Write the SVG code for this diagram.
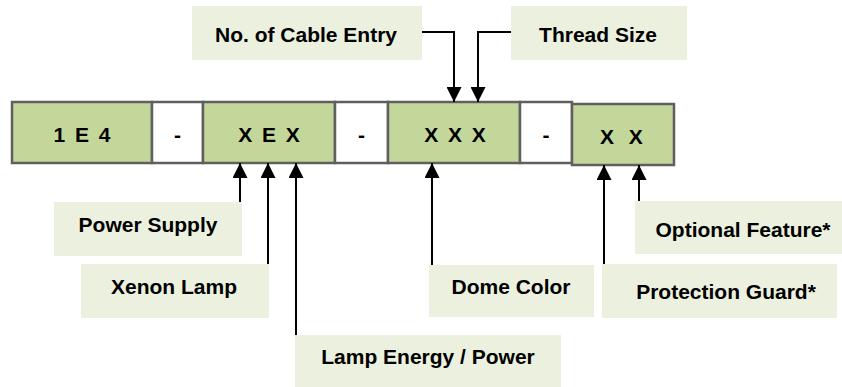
<svg xmlns="http://www.w3.org/2000/svg" width="842" height="387" viewBox="0 0 842 387">
<defs>
<style>
.cell{fill:#c4d79b;stroke:#5f5f5f;stroke-width:2.5}
.dash{fill:#ffffff;stroke:#5f5f5f;stroke-width:2.5}
.lbl{fill:#ebf1de}
text{font-family:"Liberation Sans",Arial,sans-serif;font-weight:bold;font-size:21px;fill:#000}
.code{letter-spacing:2px;text-anchor:middle}
.mid{text-anchor:middle}
.conn{fill:none;stroke:#000;stroke-width:2;marker-end:url(#ah)}
</style>
<marker id="ah" markerUnits="userSpaceOnUse" markerWidth="15" markerHeight="15" refX="14" refY="7" orient="auto" viewBox="0 0 14 14">
<path d="M0,0 L14,7 L0,14 Z" fill="#000"/>
</marker>
</defs>
<g id="bar">
<g id="cell-1e4"><rect class="cell" x="12" y="102" width="140" height="61"/><text class="code" x="83" y="142">1 E 4</text></g>
<g id="cell-dash1"><rect class="dash" x="152" y="102" width="51" height="61"/><text class="mid" x="177.5" y="142">-</text></g>
<g id="cell-xex"><rect class="cell" x="203" y="102" width="132" height="61"/><text class="code" x="270" y="142">X E X</text></g>
<g id="cell-dash2"><rect class="dash" x="335" y="102" width="53" height="61"/><text class="mid" x="361.5" y="142">-</text></g>
<g id="cell-xxx"><rect class="cell" x="388" y="102" width="132" height="61"/><text class="code" x="456" y="142">X X X</text></g>
<g id="cell-dash3"><rect class="dash" x="520" y="102" width="52" height="61"/><text class="mid" x="546" y="142">-</text></g>
<g id="cell-xx"><rect class="cell" x="572" y="104" width="102" height="61"/><text x="600" y="144" style="letter-spacing:4.5px">X X</text></g>
</g>
<g id="labels">
<g id="lbl-cable"><rect class="lbl" x="192" y="6" width="230" height="54"/><text class="mid" x="306" y="42">No. of Cable Entry</text></g>
<g id="lbl-thread"><rect class="lbl" x="511" y="6" width="176" height="54"/><text class="mid" x="598" y="42">Thread Size</text></g>
<g id="lbl-power"><rect class="lbl" x="54" y="202" width="188" height="54"/><text class="mid" x="148" y="232">Power Supply</text></g>
<g id="lbl-xenon"><rect class="lbl" x="81" y="264" width="188" height="54"/><text class="mid" x="174" y="294">Xenon Lamp</text></g>
<g id="lbl-energy"><rect class="lbl" x="295" y="335" width="266" height="52"/><text class="mid" x="428" y="364">Lamp Energy / Power</text></g>
<g id="lbl-dome"><rect class="lbl" x="429" y="265" width="165" height="52"/><text class="mid" x="511" y="294">Dome Color</text></g>
<g id="lbl-guard"><rect class="lbl" x="602" y="264" width="235" height="54"/><text class="mid" x="726" y="299">Protection Guard*</text></g>
<g id="lbl-optional"><rect class="lbl" x="635" y="201" width="207" height="53"/><text class="mid" x="743" y="237">Optional Feature*</text></g>
</g>
<g id="connectors">
<path class="conn" d="M422,32 H454 V102"/>
<path class="conn" d="M511,32 H478 V102"/>
<path class="conn" d="M240,202 V163"/>
<path class="conn" d="M268,264 V163"/>
<path class="conn" d="M296,335 V163"/>
<path class="conn" d="M432,265 V163"/>
<path class="conn" d="M604,264 V165"/>
<path class="conn" d="M639,201 V165"/>
</g>
</svg>
